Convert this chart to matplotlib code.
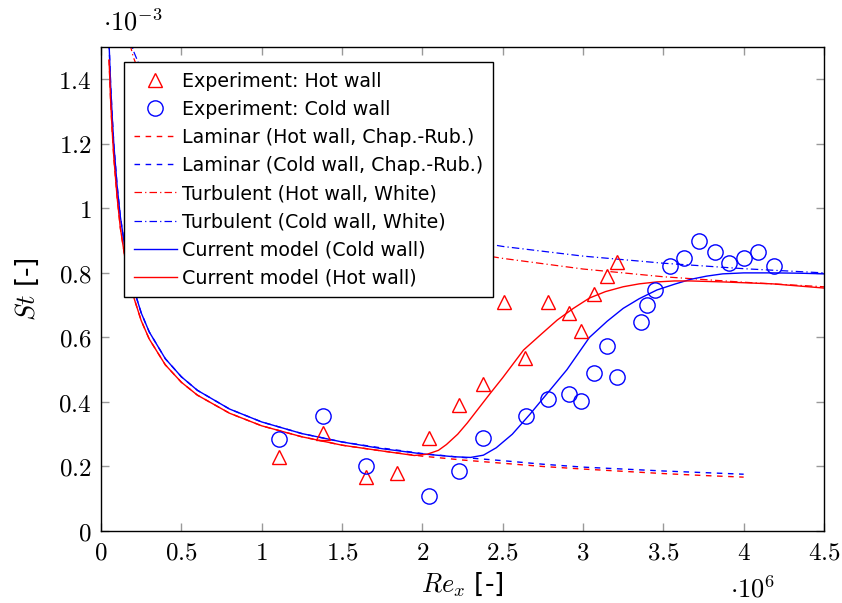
import matplotlib
matplotlib.use('Agg')
import matplotlib.pyplot as plt

plt.rcParams['mathtext.fontset'] = 'cm'
plt.rcParams['font.family'] = ['DejaVu Sans']

# Re_x in units of 1e6, St in units of 1e-3
hot_re = [1.11, 1.38, 1.65, 1.84, 2.04, 2.23, 2.38, 2.51, 2.64, 2.78, 2.91, 2.99, 3.07, 3.15, 3.21]
hot_st = [0.228, 0.305, 0.168, 0.18, 0.287, 0.39, 0.455, 0.71, 0.535, 0.71, 0.675, 0.62, 0.735, 0.79, 0.834]

cold_re = [1.11, 1.38, 1.65, 2.04, 2.23, 2.38, 2.645, 2.78, 2.91, 2.99, 3.07, 3.15, 3.21, 3.36,
           3.40, 3.45, 3.54, 3.63, 3.72, 3.82, 3.91, 4.0, 4.09, 4.19]
cold_st = [0.285, 0.357, 0.20, 0.108, 0.186, 0.288, 0.357, 0.41, 0.425, 0.403, 0.49, 0.574, 0.478, 0.648,
           0.70, 0.747, 0.822, 0.846, 0.899, 0.865, 0.831, 0.847, 0.865, 0.822]

lam_re = [0.05, 0.06, 0.07, 0.08, 0.1, 0.12, 0.15, 0.2, 0.25, 0.3, 0.4, 0.5, 0.6, 0.8, 1.0, 1.25,
          1.5, 1.75, 2.0, 2.25, 2.5, 2.75, 3.0, 3.25, 3.5, 3.75, 4.0]
lam_cold = [1.51, 1.38, 1.28, 1.195, 1.07, 0.975, 0.873, 0.756, 0.676, 0.617, 0.534, 0.478, 0.436, 0.378,
            0.338, 0.302, 0.276, 0.257, 0.240, 0.228, 0.218, 0.207, 0.198, 0.192, 0.186, 0.181, 0.176]
lam_hot = [1.46, 1.33, 1.235, 1.155, 1.035, 0.94, 0.843, 0.73, 0.652, 0.595, 0.515, 0.461, 0.421, 0.365,
           0.326, 0.292, 0.266, 0.248, 0.232, 0.22, 0.21, 0.2, 0.192, 0.185, 0.178, 0.172, 0.167]

turb_re = [0.18, 0.2, 0.3, 0.5, 0.75, 1.0, 1.5, 2.0, 2.5, 3.0, 3.5, 4.0, 4.5]
turb_cold = [1.53, 1.49, 1.37, 1.23, 1.13, 1.07, 0.985, 0.925, 0.882, 0.852, 0.83, 0.813, 0.80]
turb_hot = [1.51, 1.47, 1.34, 1.19, 1.09, 1.03, 0.94, 0.885, 0.845, 0.812, 0.788, 0.771, 0.757]

model_cold_re = [0.05, 0.06, 0.07, 0.08, 0.1, 0.12, 0.15, 0.2, 0.25, 0.3, 0.4, 0.5, 0.6, 0.8, 1.0, 1.25,
                 1.5, 1.75, 2.0, 2.2, 2.3, 2.38, 2.46, 2.56, 2.67, 2.78, 2.9, 3.04, 3.15, 3.25, 3.35,
                 3.46, 3.57, 3.67, 3.77, 3.87, 4.0, 4.18, 4.35, 4.5]
model_cold_st = [1.51, 1.38, 1.28, 1.195, 1.07, 0.975, 0.873, 0.756, 0.676, 0.617, 0.534, 0.478, 0.436,
                 0.378, 0.338, 0.302, 0.276, 0.255, 0.239, 0.230, 0.228, 0.235, 0.258, 0.30, 0.362,
                 0.428, 0.50, 0.60, 0.65, 0.69, 0.72, 0.747, 0.765, 0.78, 0.79, 0.797, 0.80, 0.80,
                 0.799, 0.797]

model_hot_re = [0.05, 0.06, 0.07, 0.08, 0.1, 0.12, 0.15, 0.2, 0.25, 0.3, 0.4, 0.5, 0.6, 0.8, 1.0, 1.25,
                1.5, 1.75, 1.95, 2.03, 2.1, 2.15, 2.22, 2.28, 2.35, 2.42, 2.5, 2.63, 2.74, 2.84, 2.94,
                3.04, 3.14, 3.25, 3.35, 3.46, 3.57, 3.67, 3.87, 4.18, 4.5]
model_hot_st = [1.46, 1.33, 1.235, 1.155, 1.035, 0.94, 0.843, 0.73, 0.652, 0.595, 0.515, 0.461, 0.421,
                0.365, 0.326, 0.292, 0.266, 0.248, 0.234, 0.238, 0.25, 0.268, 0.30, 0.335, 0.38,
                0.425, 0.475, 0.561, 0.61, 0.654, 0.69, 0.722, 0.742, 0.757, 0.766, 0.772, 0.775,
                0.775, 0.772, 0.766, 0.753]

xticks = [0, 0.5, 1, 1.5, 2, 2.5, 3, 3.5, 4, 4.5]
yticks = [0, 0.2, 0.4, 0.6, 0.8, 1.0, 1.2, 1.4]

fig = plt.figure(figsize=(8.42, 6.03), dpi=100)
ax = fig.add_axes([0.12, 0.1194, 0.8586, 0.8026])

dash = (0, (4, 4))
dashdot = (0, (6, 2.5, 1, 2.5))

ax.plot(hot_re, hot_st, ls='none', marker='^', ms=10, mfc='none', mec='red', mew=1.0,
        label='Experiment: Hot wall', zorder=5)
ax.plot(cold_re, cold_st, ls='none', marker='o', ms=11, mfc='none', mec='blue', mew=1.0,
        label='Experiment: Cold wall', zorder=5)
ax.plot(lam_re, lam_hot, color='red', ls=dash, lw=1.0, label='Laminar (Hot wall, Chap.-Rub.)')
ax.plot(lam_re, lam_cold, color='blue', ls=dash, lw=1.0, label='Laminar (Cold wall, Chap.-Rub.)')
ax.plot(turb_re, turb_hot, color='red', ls=dashdot, lw=0.9, label='Turbulent (Hot wall, White)')
ax.plot(turb_re, turb_cold, color='blue', ls=dashdot, lw=0.9, label='Turbulent (Cold wall, White)')
ax.plot(model_cold_re, model_cold_st, color='blue', lw=1.0, label='Current model (Cold wall)')
ax.plot(model_hot_re, model_hot_st, color='red', lw=1.0, label='Current model (Hot wall)')

ax.set_xlim(0, 4.5)
ax.set_ylim(0, 1.5)
ax.set_xticks(xticks)
ax.set_yticks(yticks)
ax.set_xticklabels(['$%g$' % t for t in xticks], fontsize=18)
ax.set_yticklabels(['$%g$' % t for t in yticks], fontsize=18)
ax.tick_params(direction='in', length=6, width=1, color='#999999', top=True, right=True)
ax.tick_params(axis='y', pad=7)
ax.tick_params(axis='x', pad=7)
for s in ax.spines.values():
    s.set_linewidth(1.0)
    s.set_color('black')

ax.set_xlabel('$Re_x$ [-]', fontsize=19, labelpad=4)
ax.set_ylabel('$St$ [-]', fontsize=19, labelpad=12)

# pgfplots style scale labels
ax.text(0.003, 1.022, r'$\cdot10^{-3}$', transform=ax.transAxes, fontsize=19, ha='left', va='bottom')
ax.text(0.87, -0.095, r'$\cdot10^{6}$', transform=ax.transAxes, fontsize=19, ha='left', va='top')

leg = ax.legend(loc='upper left', bbox_to_anchor=(0.0318, 0.969), borderaxespad=0, fontsize=13.7,
                numpoints=1, handlelength=2.3, handletextpad=0.25, labelspacing=0.48,
                fancybox=False, framealpha=1, edgecolor='black', borderpad=0.5)
leg.get_frame().set_linewidth(1.0)
leg.set_zorder(10)

fig.savefig('out.png', dpi=100)
